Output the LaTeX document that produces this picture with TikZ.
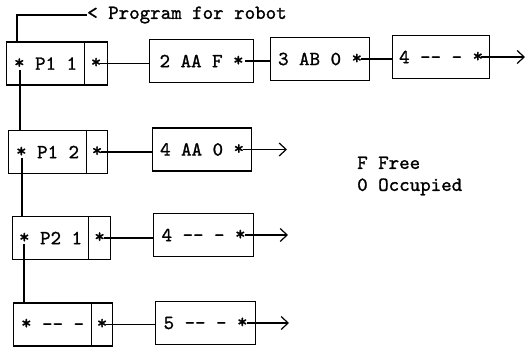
\documentclass[tikz,border=0pt]{standalone}
\usepackage{fontspec}
\newfontfamily\tw{lmmono10-regular.otf}[FakeBold=1.2]
\usetikzlibrary{arrows.meta}
\newcommand\mystar{\raisebox{1pt}{*}}
\begin{document}
\begin{tikzpicture}[x=1pt,y=-1pt,
  every node/.style={font=\tw\fontsize{20}{22}\selectfont},
  cell/.style={draw, line width=1.2pt, minimum height=43pt, inner sep=0pt, anchor=west},
  link/.style={line width=1.2pt},
  arr/.style={line width=1.2pt, -{Straight Barb[length=7pt,width=13pt,line width=1.2pt]}}
]
\useasboundingbox (0,0) rectangle (526,348);
% label
\node[anchor=west, inner sep=0pt] (lbl) at (87,15) {< Program for robot};
% row 1
\node[cell, minimum width=78pt] (L1) at (6,63.5) {\mystar{} P1 1};
\node[cell, minimum width=23pt] (R1) at (84,63.5) {\mystar};
\node[cell, minimum width=104pt] (A1) at (149,61) {2 AA F \mystar};
\node[cell, minimum width=99pt] (A2) at (270,59) {3 AB 0 \mystar};
\node[cell, minimum width=97pt] (A3) at (392,57) {4 -{}- - \mystar};
% row 2
\node[cell, minimum width=78pt] (L2) at (8,152) {\mystar{} P1 2};
\node[cell, minimum width=21pt] (R2) at (86,152) {\mystar};
\node[cell, minimum width=99pt] (B1) at (152,149.5) {4 AA 0 \mystar};
% row 3
\node[cell, minimum width=76pt] (L3) at (12,238) {\mystar{} P2 1};
\node[cell, minimum width=22pt] (R3) at (88,238) {\mystar};
\node[cell, minimum width=100pt] (C1) at (153,235) {4 -{}- - \mystar};
% row 4
\node[cell, minimum width=78pt] (L4) at (13,324.5) {\mystar{} -{}- -};
\node[cell, minimum width=21pt] (R4) at (91,324.5) {\mystar};
\node[cell, minimum width=100pt] (D1) at (155,323) {5 -{}- - \mystar};
% legend
\node[anchor=west, align=left, inner sep=0pt] (leg) at (357,176) {F Free\\0 Occupied};
% label line
\draw[link] ([xshift=11pt]L1.north west) |- (lbl.west);
% vertical chain
\coordinate (v1) at ([xshift=14pt,yshift=-6pt]L1.west);
\coordinate (v2) at ([xshift=14pt,yshift=-6pt]L2.west);
\coordinate (v3) at ([xshift=12pt,yshift=-6pt]L3.west);
\draw[link] (v1) -- (v1 |- L2.north);
\draw[link] (v2) -- (v2 |- L3.north);
\draw[link] (v3) -- (v3 |- L4.north);
% horizontal links
\coordinate (h1) at ([xshift=4pt]R1.center);
\coordinate (h2) at ([xshift=4pt]R2.center);
\coordinate (h3) at ([xshift=4pt]R3.center);
\coordinate (h4) at ([xshift=4pt]R4.center);
\draw[link] (h1) -- (h1 -| A1.west);
\draw[link] (h2) -- (h2 -| B1.west);
\draw[link] (h3) -- (h3 -| C1.west);
\draw[link] (h4) -- (h4 -| D1.west);
\coordinate (a1) at ([xshift=-9pt]A1.east);
\coordinate (a2) at ([xshift=-9pt]A2.east);
\draw[link] (a1) -- (a1 -| A2.west);
\draw[link] (a2) -- (a2 -| A3.west);
% end arrows
\coordinate (s3) at ([xshift=-9pt]A3.east);
\coordinate (sb) at ([xshift=-9pt]B1.east);
\coordinate (sc) at ([xshift=-9pt]C1.east);
\coordinate (sd) at ([xshift=-9pt]D1.east);
\coordinate (e1) at (525,57);
\coordinate (e2) at (287,149.5);
\coordinate (e3) at (288,235);
\coordinate (e4) at (289,323);
\draw[arr] (s3) -- (e1);
\draw[arr] (sb) -- (e2);
\draw[arr] (sc) -- (e3);
\draw[arr] (sd) -- (e4);
\end{tikzpicture}
\end{document}
